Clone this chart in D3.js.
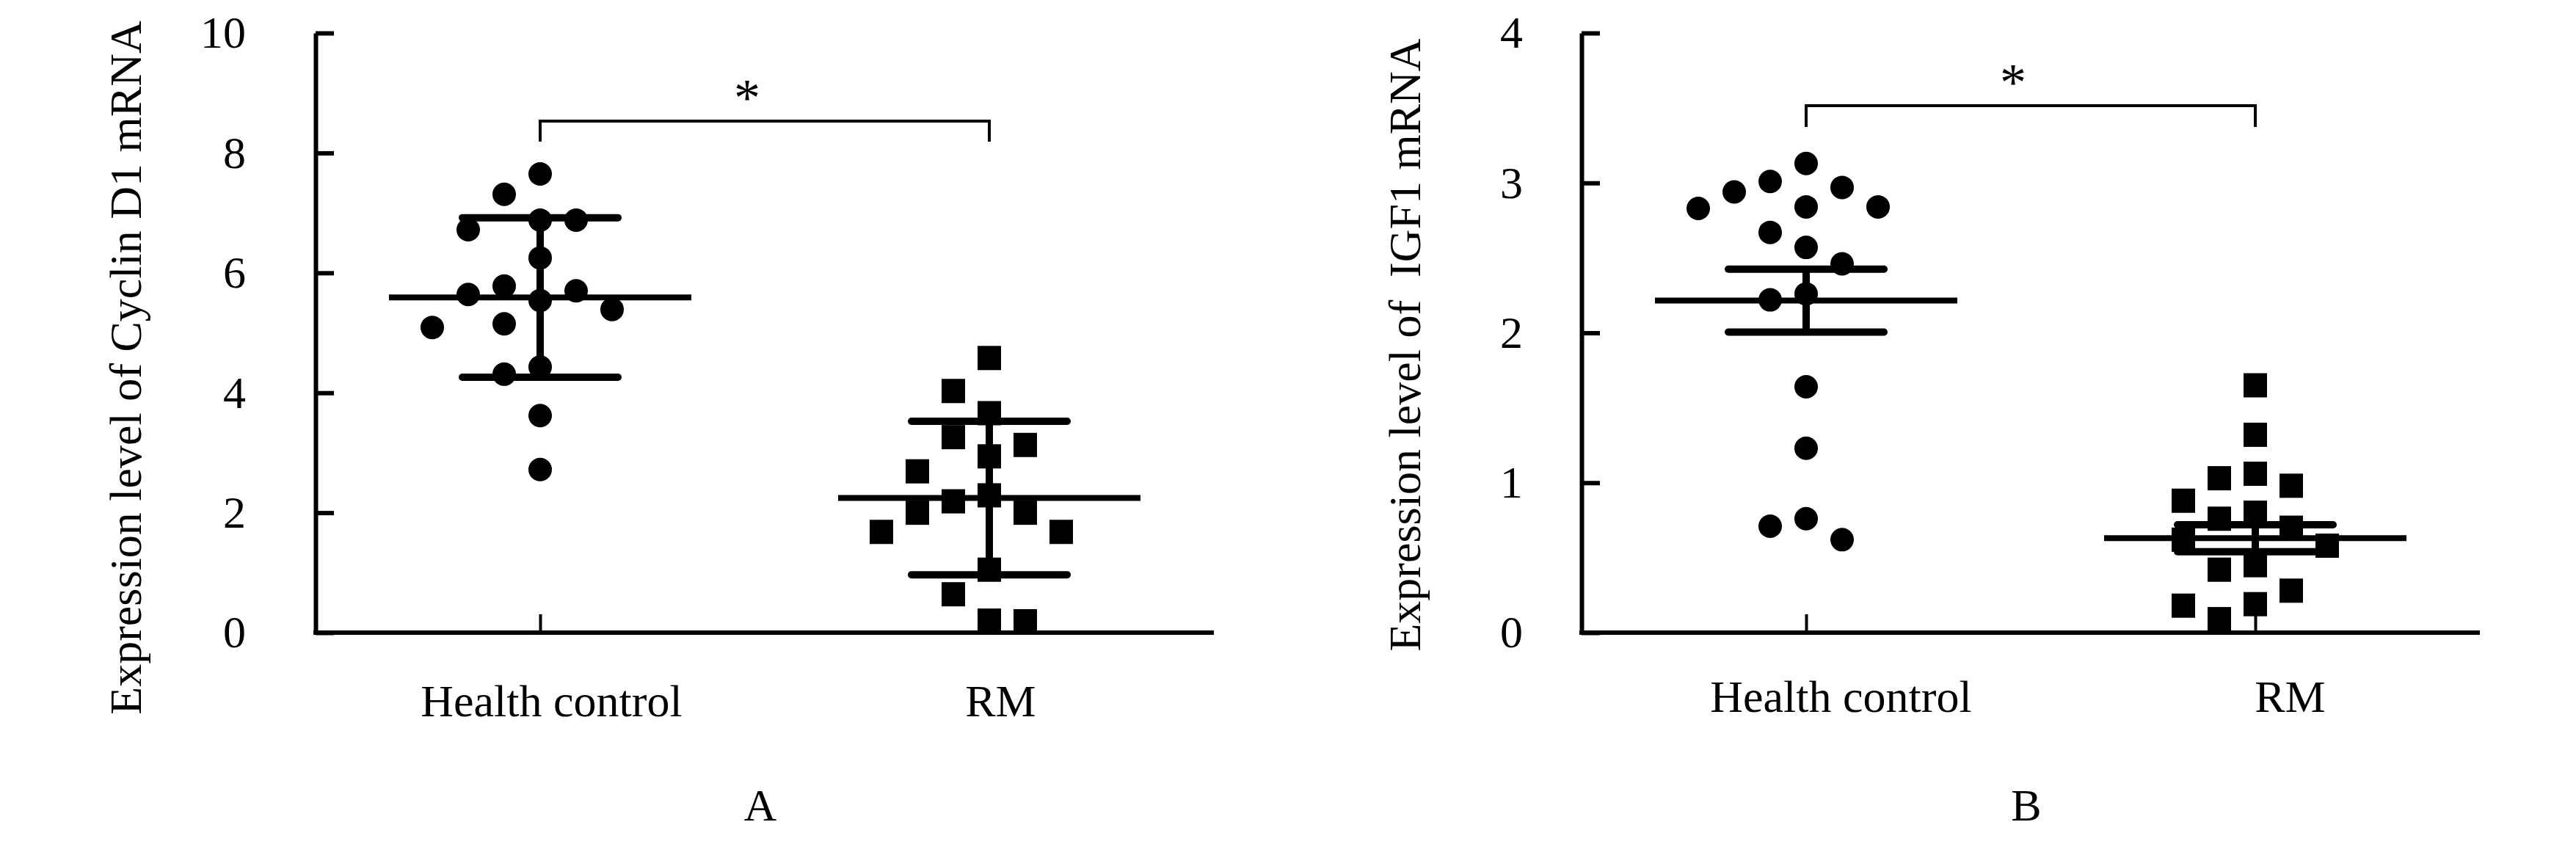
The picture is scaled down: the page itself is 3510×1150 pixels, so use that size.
<!DOCTYPE html>
<html lang="en">

<head>
    <meta charset="UTF-8">
    <script src="https://d3js.org/d3.v7.min.js"></script>
    <title>Cyclin D1 / IGF1</title>
    <style>
        body { margin: 0; background: #fff; }
        text { font-family: 'Liberation Serif', 'Times New Roman', serif; fill: #000; }
    </style>
</head>

<body>
    <svg width="3510" height="1150" id="mainsvg"></svg>
    <script>
        // data
        const groups = ['Health control', 'RM'];

        const cyclinHealth = [7.65, 7.31, 6.88, 6.88, 6.72, 6.25, 5.78, 5.70, 5.64, 5.54, 5.39, 5.15, 5.09, 4.43, 4.31, 3.62, 2.72];
        const cyclinRM = [4.58, 4.03, 3.66, 3.26, 3.13, 2.94, 2.69, 2.29, 2.19, 2.00, 2.00, 1.68, 1.68, 1.05, 0.64, 0.20, 0.19];
        const cyclinMean = [5.59, 2.245];
        const cyclinSD = [1.33, 1.28];
        const cyclinTicks = [0, 2, 4, 6, 8, 10];

        const igfHealth = [3.13, 3.01, 2.97, 2.94, 2.84, 2.84, 2.83, 2.67, 2.57, 2.46, 2.26, 2.22, 1.64, 1.23, 0.76, 0.71, 0.62];
        const igfRM = [1.65, 1.32, 1.06, 1.03, 0.98, 0.88, 0.80, 0.76, 0.70, 0.62, 0.58, 0.45, 0.42, 0.28, 0.19, 0.18, 0.09];
        const igfMean = [2.215, 0.63];
        const igfSEM = [0.21, 0.09];
        const igfTicks = [0, 1, 2, 3, 4];

        const svg = d3.select('#mainsvg');
        const FONT = 62;

        // simple lane beeswarm: biggest value first, nearest free lane to the centre
        function swarm(values, y, cx, step, gap) {
            const order = d3.range(values.length).sort((a, b) => values[b] - values[a]);
            const lanes = [0, -1, 1, -2, 2, -3, 3, -4, 4];
            const placed = [];
            order.forEach(i => {
                const py = y(values[i]);
                const lane = lanes.find(l => placed.every(p => p.lane !== l || Math.abs(p.y - py) >= gap));
                placed.push({ lane: lane, x: cx + lane * step, y: py });
            });
            return placed;
        }

        function drawPanel(cfg) {
            const g = svg.append('g');

            const y = d3.scaleLinear().domain(cfg.domain).range([862, 45]);
            const x = d3.scalePoint().domain(groups)
                .range([cfg.left, cfg.left + 1224]).padding(0.5);

            // y axis
            const yAxis = d3.axisLeft(y).tickValues(cfg.ticks).tickFormat(d3.format('d'))
                .tickSize(-25).tickSizeOuter(0).tickPadding(cfg.labelGap);
            const ya = g.append('g').attr('transform', `translate(${cfg.left},0)`).call(yAxis);
            ya.select('.domain').attr('stroke-width', 6);
            ya.selectAll('.tick line').attr('stroke-width', 6);
            ya.selectAll('.tick text').attr('font-size', FONT).attr('font-family', 'Liberation Serif');

            // x axis
            const xAxis = d3.axisBottom(x).tickSize(-25).tickSizeOuter(0).tickPadding(cfg.catPad);
            const xa = g.append('g').attr('transform', 'translate(0,862)').call(xAxis);
            xa.select('.domain').attr('stroke-width', 6)
                .attr('d', `M${cfg.left - 3},0H${cfg.left + 1224}`);
            xa.selectAll('.tick line').attr('stroke-width', 4);
            xa.selectAll('.tick text').attr('font-size', FONT).attr('font-family', 'Liberation Serif')
                .attr('dx', cfg.catDx);

            // y title
            g.append('text')
                .attr('transform', `translate(${cfg.titleX},${cfg.titleY}) rotate(-90)`)
                .attr('text-anchor', 'middle')
                .attr('font-size', FONT)
                .style('white-space', 'pre')
                .text(cfg.title);

            // panel letter
            g.append('text')
                .attr('x', cfg.left + 606).attr('y', 1118)
                .attr('text-anchor', 'middle').attr('font-size', FONT)
                .text(cfg.letter);

            // points
            const ptsH = swarm(cfg.health, y, x(groups[0]), 49, 50);
            g.selectAll('.dotH').data(ptsH).enter().append('circle')
                .attr('class', 'dotH')
                .attr('cx', d => d.x).attr('cy', d => d.y).attr('r', 16)
                .attr('fill', '#000');
            const ptsR = swarm(cfg.rm, y, x(groups[1]), 49, 50);
            g.selectAll('.sqR').data(ptsR).enter().append('rect')
                .attr('class', 'sqR')
                .attr('x', d => d.x - 16).attr('y', d => d.y - 16.5)
                .attr('width', 32).attr('height', 33)
                .attr('fill', '#000');

            // mean line and error bars
            groups.forEach((name, i) => {
                const cx = x(name);
                const m = cfg.mean[i], e = cfg.err[i];
                g.append('line')
                    .attr('x1', cx - 206).attr('x2', cx + 206)
                    .attr('y1', y(m)).attr('y2', y(m))
                    .attr('stroke', '#000').attr('stroke-width', 8);
                g.append('line')
                    .attr('x1', cx).attr('x2', cx)
                    .attr('y1', y(m + e)).attr('y2', y(m - e))
                    .attr('stroke', '#000').attr('stroke-width', 10);
                [m + e, m - e].forEach(v => {
                    g.append('line')
                        .attr('x1', cx - 106).attr('x2', cx + 106)
                        .attr('y1', y(v)).attr('y2', y(v))
                        .attr('stroke', '#000').attr('stroke-width', 10)
                        .attr('stroke-linecap', 'round');
                });
            });

            // significance bracket
            const x1 = x(groups[0]), x2 = x(groups[1]);
            g.append('path')
                .attr('d', `M${x1},${cfg.legEnd}V${cfg.bracketY}H${x2}V${cfg.legEnd}`)
                .attr('fill', 'none').attr('stroke', '#000').attr('stroke-width', 4);
            g.append('text')
                .attr('x', (x1 + x2) / 2 - 24).attr('y', cfg.bracketY - 8)
                .attr('text-anchor', 'middle').attr('font-size', 72)
                .text('*');
        }

        drawPanel({
            left: 430, domain: [0, 10], ticks: cyclinTicks, labelGap: 95,
            catPad: 70, catDx: 15,
            title: 'Expression level of Cyclin D1 mRNA', titleX: 192, titleY: 501,
            letter: 'A', health: cyclinHealth, rm: cyclinRM,
            mean: cyclinMean, err: cyclinSD, bracketY: 165, legEnd: 193
        });

        drawPanel({
            left: 2155, domain: [0, 4], ticks: igfTicks, labelGap: 80,
            catPad: 64, catDx: 47,
            title: 'Expression level of  IGF1 mRNA', titleX: 1935, titleY: 470,
            letter: 'B', health: igfHealth, rm: igfRM,
            mean: igfMean, err: igfSEM, bracketY: 144, legEnd: 173
        });
    </script>
</body>

</html>
